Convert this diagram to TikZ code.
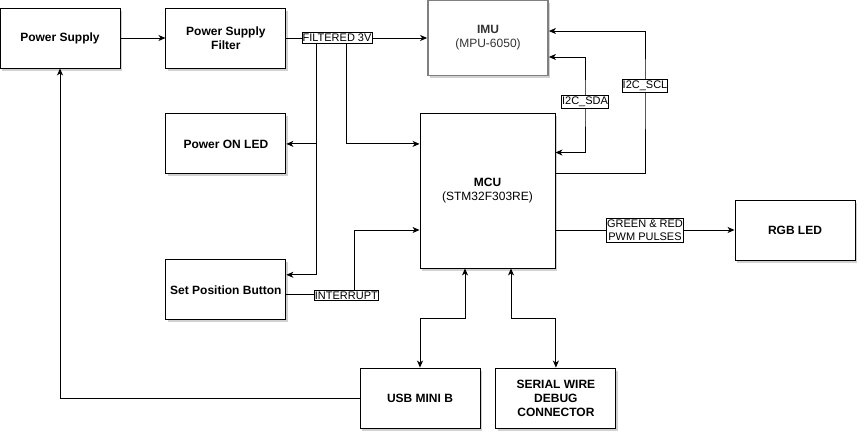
\documentclass[tikz,border=0pt]{standalone}
\usepackage{fontspec}
\setmainfont{Liberation Sans}
\usetikzlibrary{arrows.meta,positioning,calc,shadows}
\definecolor{imugray}{HTML}{808080}
\definecolor{textgray}{HTML}{333333}

\begin{document}
\begin{tikzpicture}[
  x=1pt,y=-1pt,
  node distance=45pt and 45pt,
  blk/.style={rectangle,draw=black,line width=0.9pt,fill=white,align=center,inner xsep=2pt,minimum width=120pt,minimum height=60pt,font=\fontsize{12}{14}\selectfont\bfseries,drop shadow={shadow xshift=2pt,shadow yshift=-2.5pt,opacity=0.18,fill=black}},
  lbl/.style={rectangle,draw=black,line width=0.7pt,fill=white,align=center,inner xsep=0.5pt,inner ysep=1.5pt,font=\fontsize{11}{13}\selectfont},
  arr/.style={-{Stealth[length=7pt,width=6pt,inset=2pt]},line width=0.9pt},
  dbl/.style={{Stealth[length=7pt,width=6pt,inset=2pt]}-{Stealth[length=7pt,width=6pt,inset=2pt]},line width=0.9pt}
]
\useasboundingbox (0,0) rectangle (867,440);
\node[blk] (psu) at (60,38) {Power Supply};
\node[blk,right=of psu] (filter) {Power Supply\\Filter};
\node[blk,below=of filter] (led) {Power ON LED};
\node[blk,below=85pt of led] (btn) {Set Position Button};
\node[blk,minimum height=75pt,draw=imugray,line width=1.8pt,text=textgray] (imu) at (488,38) {IMU\\{\mdseries (MPU-6050)}};
\node[blk,minimum width=135pt,minimum height=155pt] (mcu) at (487.5,190.5) {MCU\\{\mdseries (STM32F303RE)}};
\node[blk] (rgb) at (795,230) {RGB LED};
\node[blk] (usb) at (420,398) {USB MINI B};
\node[blk,right=15pt of usb] (swd) {SERIAL WIRE\\DEBUG\\CONNECTOR};
% filtered supply taps
\coordinate (tapA) at ($(filter.east)+(30pt,0)$);
\coordinate (tapB) at ($(filter.east)+(60pt,0)$);
\draw[arr] (tapA) |- (led.east);
\draw[arr] (tapA) |- ($(btn.east)+(0,15pt)$);
\draw[arr] (tapB) |- (mcu.west |- led.east);
\draw[arr] (psu) -- (filter);
\draw[arr] (filter) -- node[lbl,pos=0.36] {FILTERED 3V} (imu);
% interrupt line
\coordinate (irqbend) at ($(btn.east)+(68pt,-5pt)$);
\draw[arr] ($(btn.east)+(0,-5pt)$) -- (irqbend) |- (mcu.west |- rgb.west);
\node[lbl] (irqlbl) at ($(btn.east)+(60pt,-5.5pt)$) {INTERRUPT};
\draw[arr] (mcu.east |- rgb.west) -- node[lbl] {GREEN \& RED\\PWM PULSES} (rgb.west);
% i2c bus
\coordinate (sdabend) at (585,102);
\coordinate (sclbend) at (645,86);
\draw[dbl] ($(mcu.east)+(0,38pt)$) -| (sdabend) |- ($(imu.east)+(0,-19pt)$);
\draw[arr] ($(mcu.east)+(0,17pt)$) -| (sclbend) |- ($(imu.east)+(0,7pt)$);
\node[lbl] (sdalbl) at (sdabend) {I2C\_SDA};
\node[lbl] (scllbl) at (sclbend) {I2C\_SCL};
% usb and debug
\draw[dbl] (usb.north) |- ($(mcu.south)+(-22.5pt,-50pt)$) -- ($(mcu.south)+(-22.5pt,0)$);
\draw[dbl] (swd.north) |- ($(mcu.south)+(23.5pt,-50pt)$) -- ($(mcu.south)+(23.5pt,0)$);
\draw[arr] (usb.west) -| (psu.south);
\end{tikzpicture}
\end{document}
